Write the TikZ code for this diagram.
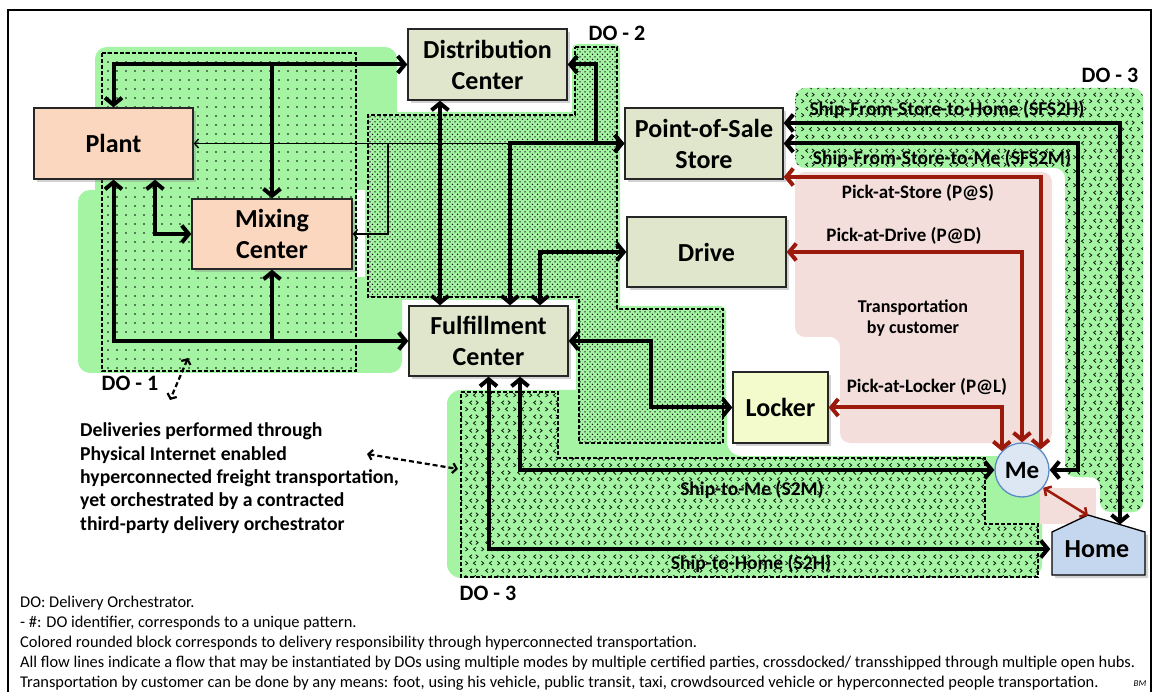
\documentclass[tikz,border=0pt]{standalone}
\usepackage{fontspec}
\setmainfont{Carlito}
\usetikzlibrary{arrows.meta,shadows,patterns,calc}
\definecolor{dogreen}{HTML}{A4F4A4}
\definecolor{peach}{HTML}{FAD7BE}
\definecolor{olivebox}{HTML}{DFE6CB}
\definecolor{lockerc}{HTML}{F3FACB}
\definecolor{mec}{HTML}{DDE7F3}
\definecolor{meborder}{HTML}{5B8BC6}
\definecolor{homec}{HTML}{C5D7EE}
\definecolor{pinkc}{HTML}{F3DEDC}
\definecolor{redc}{HTML}{9B1A0B}
\pgfdeclarepatternformonly{sparsedots}{\pgfqpoint{-1pt}{-1pt}}{\pgfqpoint{1pt}{1pt}}{\pgfqpoint{9pt}{9pt}}{%
  \pgfpathcircle{\pgfqpoint{0pt}{0pt}}{0.8pt}\pgfusepath{fill}}
\pgfdeclarepatternformonly{densedots}{\pgfqpoint{-1pt}{-1pt}}{\pgfqpoint{4pt}{4pt}}{\pgfqpoint{5pt}{5pt}}{%
  \pgfpathcircle{\pgfqpoint{0pt}{0pt}}{0.75pt}\pgfpathcircle{\pgfqpoint{2.5pt}{2.5pt}}{0.75pt}\pgfusepath{fill}}
\pgfdeclarepatternformonly{chevrons}{\pgfqpoint{0pt}{0pt}}{\pgfqpoint{16pt}{14pt}}{\pgfqpoint{16pt}{14pt}}{%
  \pgfsetlinewidth{0.75pt}%
  \pgfpathmoveto{\pgfqpoint{1.5pt}{1pt}}\pgfpathlineto{\pgfqpoint{4pt}{3pt}}\pgfpathlineto{\pgfqpoint{1.5pt}{5pt}}%
  \pgfpathmoveto{\pgfqpoint{12.5pt}{1pt}}\pgfpathlineto{\pgfqpoint{10pt}{3pt}}\pgfpathlineto{\pgfqpoint{12.5pt}{5pt}}%
  \pgfpathmoveto{\pgfqpoint{8.5pt}{8pt}}\pgfpathlineto{\pgfqpoint{6pt}{10pt}}\pgfpathlineto{\pgfqpoint{8.5pt}{12pt}}%
  \pgfpathmoveto{\pgfqpoint{12.5pt}{8pt}}\pgfpathlineto{\pgfqpoint{15pt}{10pt}}\pgfpathlineto{\pgfqpoint{12.5pt}{12pt}}%
  \pgfusepath{stroke}}
\newcommand\dotwopath{(575,47) -- (617,47) -- (617,309) -- (723,309) -- (723,443) -- (579,443) -- (579,297) -- (368,297) -- (368,115) -- (575,115) -- cycle}
\newcommand\dothreepath{(461,392) -- (558,392) -- (558,458) -- (985,458) -- (985,524) -- (1038,524) -- (1038,577) -- (461,577) -- cycle}
\newcommand\dothreetop{(795,88) -- (1143,88) -- (1143,512) -- (1100,512) -- (1100,477) -- (1065,477) -- (1065,168) -- (795,168) -- cycle}
\tikzset{
  box/.style={draw=black!85, line width=1.3pt, font=\fontsize{26}{31}\selectfont\bfseries, align=center, inner sep=0pt,
    drop shadow={shadow xshift=3pt, shadow yshift=-3pt, opacity=0.35}},
  blk/.style={line width=4pt, black, >={Straight Barb[length=7pt,width=17pt]}},
  thinflow/.style={line width=1.4pt, black, >={Straight Barb[length=4pt,width=9pt]}},
  redflow/.style={line width=4pt, redc, >={Straight Barb[length=7pt,width=17pt]}},
  dasharrow/.style={line width=2.2pt, dash pattern=on 5pt off 3pt, >={Straight Barb[length=4pt,width=10pt]}},
  regionline/.style={line width=1.3pt, dash pattern=on 4pt off 2pt},
  lbl/.style={font=\fontsize{19}{22}\selectfont\bfseries, inner sep=0pt},
  shiplbl/.style={font=\fontsize{19.5}{22}\selectfont\bfseries, inner sep=0pt},
  dolbl/.style={font=\fontsize{22}{25}\selectfont\bfseries, inner sep=0pt},
  fnote/.style={font=\fontsize{16.4}{18}\selectfont, anchor=base west, inner sep=0pt}
}
\begin{document}
\begin{tikzpicture}[x=1pt,y=-1pt]
\useasboundingbox (0,0) rectangle (1154,692);
\clip (0,0) rectangle (1154,692);
\fill[white] (0,0) rectangle (1154,692);
% green responsibility blocks
\fill[dogreen, rounded corners=12pt] (95,47) rectangle (397,210);
\fill[dogreen, rounded corners=12pt] (78,190) rectangle (402,373);
\fill[dogreen, rounded corners=14pt] (447,390) -- (727,390) -- (727,456) -- (1042,456) -- (1042,578) -- (447,578) -- cycle;
\fill[dogreen, rounded corners=10pt] \dothreetop;
\path[fill=dogreen, draw=dogreen, line width=6pt, rounded corners=3pt] \dotwopath;
% customer transportation
\fill[pinkc, rounded corners=10pt] (795,172) -- (1052,172) -- (1052,443) -- (840,443) -- (840,337) -- (795,337) -- cycle;
\fill[pinkc] (1040,488) rectangle (1096,524);
\fill[white] (357,190) rectangle (365,277);
% patterns
\fill[pattern=sparsedots] (102,53) rectangle (356,371);
\draw[regionline] (102,53) rectangle (356,371);
\fill[pattern=densedots] \dotwopath;
\draw[regionline] \dotwopath;
\fill[pattern=chevrons] \dothreepath;
\draw[regionline] \dothreepath;
\fill[pattern=chevrons, rounded corners=10pt] \dothreetop;
% labels
\node[shiplbl] (lsfs2h) at (947,110) {Ship-From-Store-to-Home (SFS2H)};
\node[shiplbl] (lsfs2m) at (942,159) {Ship-From-Store-to-Me (SFS2M)};
\node[lbl] (lpas) at (918,193) {Pick-at-Store (P@S)};
\node[lbl] (lpad) at (904,236) {Pick-at-Drive (P@D)};
\node[lbl, font=\fontsize{18}{21}\selectfont\bfseries, align=center] (ltbc) at (913,318) {Transportation\\by customer};
\node[lbl] (lpal) at (927,387) {Pick-at-Locker (P@L)};
\node[shiplbl] (ls2m) at (752,490) {Ship-to-Me (S2M)};
\node[shiplbl] (ls2h) at (751,564) {Ship-to-Home (S2H)};
\node[dolbl] (do2) at (617,33) {DO - 2};
\node[dolbl] (do3a) at (1110,75) {DO - 3};
\node[dolbl] (do3b) at (488,593) {DO - 3};
\node[dolbl] (do1) at (130,383) {DO - 1};
% nodes
\node[box, fill=peach, minimum width=159pt, minimum height=71pt] (plant) at (113.5,143.5) {Plant};
\node[box, fill=peach, minimum width=160pt, minimum height=70pt] (mc) at (272,234) {Mixing\\Center};
\node[box, fill=olivebox, minimum width=159pt, minimum height=71pt] (dc) at (487.5,64.5) {Distribution\\Center};
\node[box, fill=olivebox, minimum width=158pt, minimum height=71pt] (store) at (704,143.5) {Point-of-Sale\\Store};
\node[box, fill=olivebox, minimum width=159pt, minimum height=70pt] (drive) at (706.5,252) {Drive};
\node[box, fill=olivebox, minimum width=159pt, minimum height=70pt] (fc) at (488.5,341) {Fulfillment\\Center};
\node[box, fill=lockerc, minimum width=95pt, minimum height=71pt] (locker) at (780.5,407.5) {Locker};
\draw[fill=homec, line width=1.3pt, drop shadow={shadow xshift=3pt, shadow yshift=-3pt, opacity=0.35}] (1052,575) -- (1052,532) -- (1088,515) -- (1145,532) -- (1145,575) -- cycle;
\node[font=\fontsize{26}{28}\selectfont\bfseries, minimum width=93pt, minimum height=53pt, inner sep=0pt] (home) at (1097,549) {Home};
\coordinate (homepeak) at (1088,515.5);
\coordinate (homeroof) at (1120,524.5);
\node[circle, draw=meborder, line width=1.3pt, fill=mec, minimum size=54pt, inner sep=0pt, font=\fontsize{25}{28}\selectfont\bfseries] (me) at (1022,470) {Me};
% black flows
\draw[blk,<->] (plant.north) |- (dc.west);
\draw[blk,->] (mc.north |- dc.west) -- (mc.north);
\draw[blk,<->] (plant.south) |- (fc.west);
\draw[blk,->] (mc.south |- fc.west) -- (mc.south);
\draw[blk,<->] ([xshift=41.5pt]plant.south) |- (mc.west);
\draw[thinflow,->] (store.west) -- (plant.east);
\coordinate (tb) at (388,143.5);
\draw[thinflow,->] (tb) |- (mc.east);
\draw[blk,<->] ([xshift=21.5pt]fc.north) |- (store.west);
\draw[blk,<->] (dc.east) -| ([xshift=-28pt]store.west) -- (store.west);
\draw[blk,<->] ([xshift=-47.5pt]dc.south) -- ([xshift=-48.5pt]fc.north);
\draw[blk,<->] (drive.west) -| ([xshift=51.5pt]fc.north);
\draw[blk,<->] (fc.east) -| ($(fc.east)!0.5!(locker.west)$) |- (locker.west);
\draw[blk,<->] (fc.south) |- (home.west);
\draw[blk,<->] ([xshift=31.5pt]fc.south) |- (me.west);
\draw[blk,<->] ([yshift=20.5pt]store.east) -| (homeroof);
\draw[blk,<->] (store.east) -| ([xshift=28pt]me.east) -- (me.east);
% customer flows
\draw[redflow,<->] ([yshift=-33.5pt]store.east) -| (me.48);
\draw[redflow,<->] (drive.east) -| (me.north);
\draw[redflow,<->] (locker.east) -| (me.137);
\draw[redflow,<->, line width=2.5pt, >={Straight Barb[length=5pt,width=11pt]}] (me.-40) -- (homepeak);
% annotation
\node[anchor=base west, align=left, font=\fontsize{19.7}{23.3}\selectfont\bfseries, inner sep=0pt] (para) at (80,530)
  {Deliveries performed through\\Physical Internet enabled\\hyperconnected freight transportation,\\yet orchestrated by a contracted\\third-party delivery orchestrator};
\coordinate (do1pt) at (188,358);
\coordinate (txt1) at (170,400);
\coordinate (txt2) at (367,454);
\coordinate (do3pt) at (458,469);
\draw[dasharrow,<->] (do1pt) -- (txt1);
\draw[dasharrow,<->] (txt2) -- (do3pt);
% footnotes
\node[fnote] (f1) at (20,607) {DO: Delivery Orchestrator.};
\node[fnote] (f2) at (20,627) {- \#: DO identifier, corresponds to a unique pattern.};
\node[fnote] (f3) at (20,647) {Colored rounded block corresponds to delivery responsibility through hyperconnected transportation.};
\node[fnote] (f4) at (20,667) {All flow lines indicate a flow that may be instantiated by DOs using multiple modes by multiple certified parties, crossdocked/ transshipped through multiple open hubs.};
\node[fnote] (f5) at (20,687) {Transportation by customer can be done by any means: foot, using his vehicle, public transit, taxi, crowdsourced vehicle or hyperconnected people transportation.};
\node[font=\fontsize{9}{10}\selectfont\itshape, inner sep=0pt] (bm) at (1140,684) {BM};
% frame
\draw[line width=1.5pt] (8,10) rectangle (1151,705);
\end{tikzpicture}
\end{document}
